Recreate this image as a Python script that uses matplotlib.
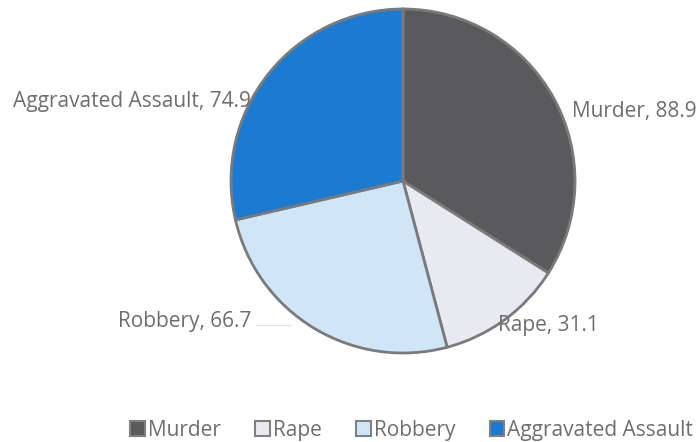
import matplotlib.pyplot as plt
from matplotlib.patches import Patch

categories = ["Murder", "Rape", "Robbery", "Aggravated Assault"]
values = [88.9, 31.1, 66.7, 74.9]
colors = ["#5a5a5c", "#e9e9f1", "#cfe6f8", "#1b7bd3"]

plt.rcParams["font.family"] = ["Open Sans", "DejaVu Sans"]
text_color = "#6e6e6e"
H = 442
fs = 15

fig = plt.figure(figsize=(7, 4.42), dpi=100)
ax = fig.add_axes([0, 0, 1, 1])

ax.pie(values, colors=colors, startangle=90, counterclock=False,
       center=(403, H - 181), radius=172, frame=True,
       wedgeprops=dict(edgecolor="#7a7a7a", linewidth=2))
ax.set_xlim(0, 700)
ax.set_ylim(0, H)
ax.set_aspect("equal")
ax.axis("off")

# data labels
lab = dict(fontsize=fs, color=text_color, va="center")
ax.text(572, H - 111, f"{categories[0]}, {values[0]}", ha="left", **lab)
ax.text(498, H - 326, f"{categories[1]}, {values[1]}", ha="left", **lab)
ax.text(251, H - 321, f"{categories[2]}, {values[2]}", ha="right", **lab)
ax.text(251, H - 101, f"{categories[3]}, {values[3]}", ha="right", **lab)
ax.plot([256, 290], [H - 325, H - 325], color="#dddddd", lw=0.8, zorder=0)

handles = [Patch(facecolor=c, edgecolor="#808080", linewidth=1.5) for c in colors]
fig.legend(handles, categories, loc="center", bbox_to_anchor=(0.588, 0.027),
           ncol=4, frameon=False, fontsize=fs, labelcolor=text_color,
           handlelength=0.7, handleheight=0.7, handletextpad=0.15,
           columnspacing=1.65)

fig.savefig("out.png", dpi=100)
